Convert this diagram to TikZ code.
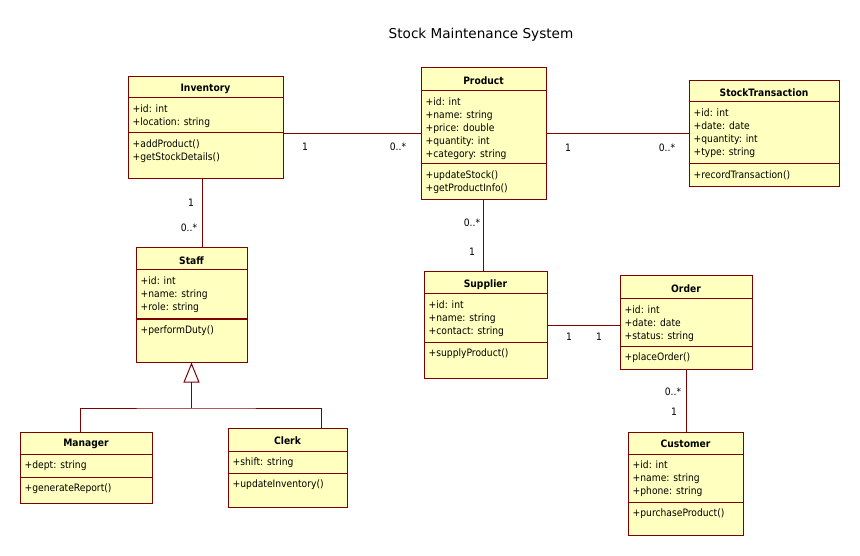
\documentclass[tikz,border=0pt]{standalone}
\usepackage{fontspec}
\setmainfont{DejaVu Sans}
\newfontfamily\boxfont{DejaVu Sans Condensed}
\usepackage{tikz}
\usetikzlibrary{calc,fit,arrows.meta}

\definecolor{umlborder}{RGB}{128,0,0}
\definecolor{umlfill}{RGB}{255,255,192}

\tikzset{
  classbox/.style={draw=umlborder, fill=umlfill, line width=1pt, inner sep=0pt},
  classline/.style={draw=umlborder, line width=1pt},
  classname/.style={font=\boxfont\fontsize{10.2}{13}\selectfont\bfseries, inner sep=0pt, yshift=-1.5pt},
  members/.style={anchor=north west, align=left, inner xsep=5pt, inner ysep=7pt,
    font=\boxfont\fontsize{10.2}{13}\selectfont},
  mult/.style={font=\boxfont\fontsize{10.2}{13}\selectfont, inner sep=0pt},
  assoc/.style={draw=umlborder, line width=1pt},
}

% #1 id, #2 top left, #3 bottom right, #4 name, #5 y of first rule,
% #6 attributes, #7 y of second rule, #8 operations
\newcommand{\umlclass}[8]{%
  \coordinate (#1-tl) at (#2);
  \coordinate (#1-br) at (#3);
  \coordinate (#1-r1) at (0,#5);
  \coordinate (#1-r2) at (0,#7);
  \node[classbox, fit=(#1-tl)(#1-br)] (#1) {};
  \draw[classline] (#1.west |- #1-r1) -- (#1.east |- #1-r1);
  \draw[classline] (#1.west |- #1-r2) -- (#1.east |- #1-r2);
  \node[classname] (#1-name) at ($(#1.north)!0.5!(#1.north |- #1-r1)$) {#4};
  \node[members] (#1-attr) at (#1.west |- #1-r1) {#6};
  \node[members] (#1-ops) at (#1.west |- #1-r2) {#8};
}

\begin{document}
\begin{tikzpicture}[x=1pt, y=-1pt]
  \useasboundingbox (0,0) rectangle (860,556);

  \node[font=\fontsize{13.6}{16}\selectfont] (title) at (481,35) {Stock Maintenance System};

  % classes
  \umlclass{inv}{128,77}{283,179}{Inventory}{98}
    {+id: int\\+location: string}{133}
    {+addProduct()\\+getStockDetails()}
  \umlclass{prod}{421,68}{546,200}{Product}{91}
    {+id: int\\+name: string\\+price: double\\+quantity: int\\+category: string}{164}
    {+updateStock()\\+getProductInfo()}
  \umlclass{st}{689,81}{839,187}{StockTransaction}{102}
    {+id: int\\+date: date\\+quantity: int\\+type: string}{164}
    {+recordTransaction()}
  \umlclass{staff}{136,248}{247,362}{Staff}{270}
    {+id: int\\+name: string\\+role: string}{319}
    {+performDuty()}
  \umlclass{mgr}{20,432}{152,503}{Manager}{454}
    {+dept: string}{477}
    {+generateReport()}
  \umlclass{clerk}{228,428}{347,507}{Clerk}{451}
    {+shift: string}{473}
    {+updateInventory()}
  \umlclass{sup}{424,272}{547,378}{Supplier}{294}
    {+id: int\\+name: string\\+contact: string}{342}
    {+supplyProduct()}
  \umlclass{ord}{620,276}{752,369}{Order}{299}
    {+id: int\\+date: date\\+status: string}{346}
    {+placeOrder()}
  \umlclass{cust}{628,432}{743,535}{Customer}{454}
    {+id: int\\+name: string\\+phone: string}{502}
    {+purchaseProduct()}

  % associations
  \coordinate (invstaff) at (202,0);
  \draw[assoc] (inv.east |- prod.west) -- (prod.west);
  \draw[assoc] (prod.east) -- (prod.east -| st.west);
  \draw[assoc] (inv.south -| invstaff) -- (staff.north -| invstaff);
  \draw[assoc] (prod.south) -- (prod.south |- sup.north);
  \draw[assoc] (sup.east) -- (sup.east -| ord.west);
  \draw[assoc] (ord.south) -- (ord.south |- cust.north);

  % generalization
  \coordinate (genlevel) at (0,408);
  \coordinate (mgrx) at (80,0);
  \coordinate (clerkx) at (321,0);
  \coordinate (genbar) at (staff.south |- genlevel);
  \draw[assoc] (mgr.north -| mgrx) |- (genbar) -| (clerk.north -| clerkx);
  \draw[assoc, -{Triangle[open, length=20pt, width=16pt]}] (genbar) -- (staff.south);

  % multiplicities
  \node[mult] (m-inv-prod) at (305,147) {1};
  \node[mult] (m-prod-inv) at (398,147) {0..*};
  \node[mult] (m-prod-st) at (568,148) {1};
  \node[mult] (m-st-prod) at (667,148) {0..*};
  \node[mult] (m-inv-staff) at (191,203) {1};
  \node[mult] (m-staff-inv) at (189,228) {0..*};
  \node[mult] (m-prod-sup) at (472,223) {0..*};
  \node[mult] (m-sup-prod) at (472,252) {1};
  \node[mult] (m-sup-ord) at (569,337) {1};
  \node[mult] (m-ord-sup) at (599,337) {1};
  \node[mult] (m-ord-cust) at (673,392) {0..*};
  \node[mult] (m-cust-ord) at (674,412) {1};
\end{tikzpicture}
\end{document}
